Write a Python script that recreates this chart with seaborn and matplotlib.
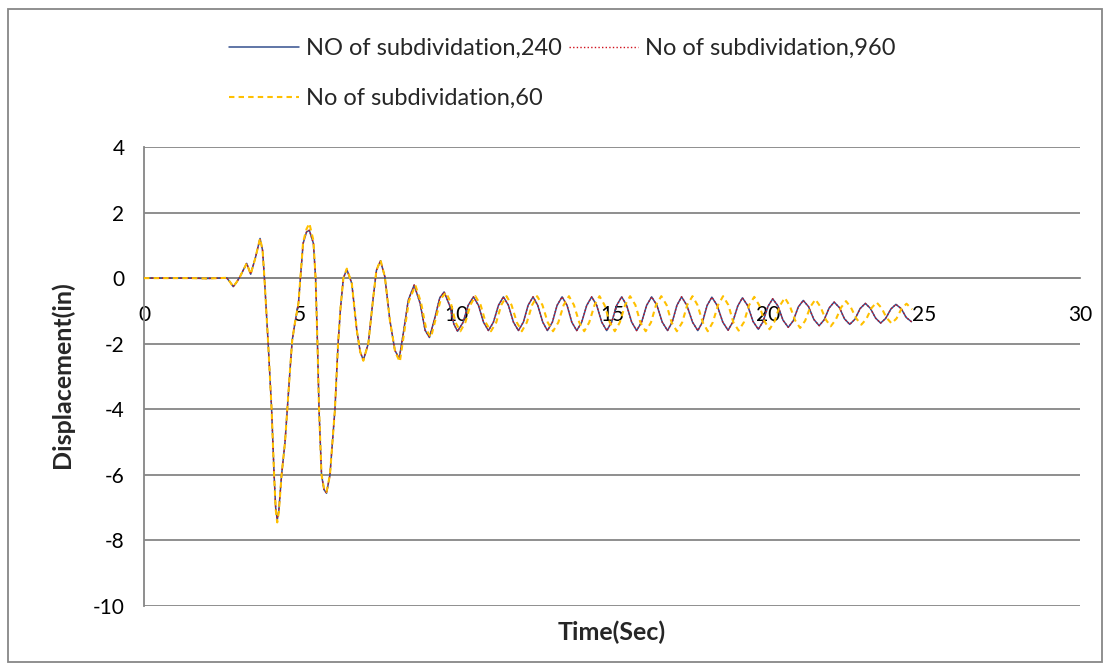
import matplotlib
matplotlib.use("Agg")
import matplotlib.pyplot as plt
from matplotlib.patches import Rectangle
import seaborn as sns
import pandas as pd

# ---------------- data ----------------
# common start of the response (0 .. 7.88 s)
time_early = [0.0, 0.5, 1.0, 1.5, 2.0, 2.4, 2.65, 2.76, 2.86, 2.97, 3.08, 3.29, 3.42, 3.57,
              3.72, 3.80, 3.86, 3.98, 4.09, 4.17, 4.22, 4.27, 4.32, 4.41, 4.52, 4.60, 4.68,
              4.75, 4.84, 4.95, 5.00, 5.10, 5.21, 5.30, 5.43, 5.50, 5.56, 5.61, 5.69, 5.77,
              5.85, 5.96, 6.12, 6.22, 6.30, 6.39, 6.50, 6.66, 6.82, 6.93, 7.03, 7.19, 7.35,
              7.45, 7.58, 7.72, 7.88]

disp_early_240 = [0.0, 0.0, 0.0, 0.0, -0.01, 0.0, 0.01, -0.12, -0.26, -0.12, 0.05, 0.45, 0.12,
                  0.62, 1.21, 0.85, 0.0, -2.0, -4.0, -6.0, -7.0, -7.38, -7.1, -6.0, -5.0, -3.9,
                  -2.8, -1.9, -1.35, -0.77, -0.16, 1.06, 1.41, 1.46, 1.06, 0.0, -2.0, -4.0,
                  -6.0, -6.45, -6.56, -6.0, -4.0, -2.0, -0.9, 0.0, 0.27, -0.16, -1.59, -2.25,
                  -2.5, -1.99, -0.57, 0.24, 0.53, 0.04, -1.28]

disp_early_60 = [0.0, 0.0, 0.0, 0.0, -0.01, 0.0, 0.01, -0.12, -0.26, -0.12, 0.05, 0.45, 0.12,
                 0.62, 1.21, 0.85, 0.0, -2.0, -4.0, -6.0, -7.05, -7.45, -7.15, -6.0, -5.0, -3.9,
                 -2.8, -1.9, -1.35, -0.77, -0.16, 1.10, 1.50, 1.67, 1.15, 0.0, -2.0, -4.0,
                 -6.0, -6.42, -6.52, -6.0, -4.0, -2.0, -0.9, 0.0, 0.29, -0.16, -1.59, -2.25,
                 -2.52, -1.99, -0.57, 0.24, 0.55, 0.04, -1.28]

# NO of subdividation, 240 (8.04 s onward)
time_late_240 = [8.04, 8.18, 8.31, 8.47, 8.66, 8.85, 9.01, 9.15, 9.33, 9.48, 9.62, 9.81, 9.93,
                 10.05, 10.22, 10.39, 10.56, 10.72, 10.88, 11.04, 11.20, 11.36, 11.52, 11.68,
                 11.84, 12.00, 12.16, 12.31, 12.47, 12.62, 12.78, 12.93, 13.09, 13.24, 13.40,
                 13.56, 13.71, 13.87, 14.03, 14.19, 14.35, 14.51, 14.67, 14.83, 14.99, 15.15,
                 15.31, 15.47, 15.63, 15.79, 15.95, 16.11, 16.27, 16.44, 16.61, 16.78, 16.93,
                 17.08, 17.23, 17.40, 17.58, 17.75, 17.90, 18.05, 18.20, 18.37, 18.55, 18.72,
                 18.87, 19.03, 19.18, 19.35, 19.52, 19.69, 19.84, 20.00, 20.15, 20.32, 20.48,
                 20.65, 20.81, 20.97, 21.13, 21.30, 21.47, 21.64, 21.80, 21.96, 22.12, 22.29,
                 22.45, 22.62, 22.79, 22.95, 23.12, 23.28, 23.45, 23.61, 23.77, 23.94, 24.10,
                 24.27, 24.43, 24.60]
disp_late_240 = [-2.2, -2.45, -1.69, -0.67, -0.21, -0.77, -1.59, -1.81, -1.18, -0.6, -0.42,
                 -0.87, -1.4, -1.62, -1.36, -0.83, -0.57, -0.83, -1.34, -1.60, -1.34, -0.83,
                 -0.57, -0.83, -1.34, -1.60, -1.34, -0.83, -0.57, -0.83, -1.34, -1.60, -1.34,
                 -0.83, -0.57, -0.83, -1.34, -1.60, -1.34, -0.83, -0.57, -0.83, -1.34, -1.60,
                 -1.34, -0.83, -0.57, -0.83, -1.34, -1.60, -1.34, -0.83, -0.57, -0.83, -1.34,
                 -1.60, -1.34, -0.83, -0.57, -0.83, -1.34, -1.60, -1.34, -0.83, -0.58, -0.83,
                 -1.34, -1.59, -1.34, -0.85, -0.60, -0.84, -1.32, -1.56, -1.33, -0.86, -0.63,
                 -0.85, -1.28, -1.50, -1.30, -0.88, -0.68, -0.87, -1.26, -1.45, -1.27, -0.91,
                 -0.73, -0.90, -1.24, -1.41, -1.25, -0.93, -0.77, -0.92, -1.22, -1.37, -1.23,
                 -0.94, -0.80, -0.93, -1.20, -1.33]

# No of subdividation, 960 : coincides with the 240 curve in the reference
time_late_960 = list(time_late_240)
disp_late_960 = list(disp_late_240)

# No of subdividation, 60 (8.05 s onward): slightly longer period
time_late_60 = [8.05, 8.20, 8.33, 8.49, 8.70, 8.88, 9.05, 9.20, 9.36, 9.52, 9.68, 9.83, 9.99,
                10.14, 10.30, 10.46, 10.62, 10.79, 10.95, 11.12, 11.29, 11.45, 11.62, 11.78,
                11.95, 12.11, 12.27, 12.44, 12.60, 12.77, 12.94, 13.11, 13.28, 13.45, 13.62,
                13.78, 13.95, 14.11, 14.27, 14.44, 14.60, 14.76, 14.93, 15.09, 15.25, 15.42,
                15.58, 15.75, 15.91, 16.08, 16.25, 16.41, 16.58, 16.75, 16.91, 17.08, 17.25,
                17.41, 17.58, 17.74, 17.91, 18.07, 18.23, 18.40, 18.56, 18.73, 18.89, 19.06,
                19.23, 19.39, 19.56, 19.72, 19.89, 20.05, 20.21, 20.38, 20.54, 20.70, 20.87,
                21.03, 21.19, 21.36, 21.52, 21.68, 21.85, 22.01, 22.17, 22.34, 22.50, 22.66,
                22.83, 22.99, 23.15, 23.32, 23.48, 23.64, 23.80, 23.96, 24.12, 24.28, 24.44,
                24.62]
disp_late_60 = [-2.25, -2.55, -1.72, -0.70, -0.22, -0.75, -1.58, -1.80, -1.20, -0.62, -0.44,
                -0.74, -1.36, -1.62, -1.35, -0.82, -0.55, -0.82, -1.35, -1.62, -1.35, -0.82,
                -0.55, -0.82, -1.35, -1.62, -1.35, -0.82, -0.55, -0.82, -1.35, -1.62, -1.35,
                -0.82, -0.55, -0.82, -1.35, -1.62, -1.35, -0.82, -0.55, -0.82, -1.35, -1.62,
                -1.35, -0.82, -0.55, -0.82, -1.35, -1.62, -1.35, -0.82, -0.55, -0.82, -1.35,
                -1.62, -1.35, -0.82, -0.55, -0.82, -1.35, -1.62, -1.35, -0.82, -0.55, -0.82,
                -1.35, -1.60, -1.34, -0.83, -0.57, -0.83, -1.32, -1.56, -1.32, -0.84, -0.60,
                -0.85, -1.29, -1.52, -1.30, -0.87, -0.65, -0.87, -1.26, -1.47, -1.27, -0.90,
                -0.70, -0.90, -1.23, -1.42, -1.25, -0.91, -0.74, -0.91, -1.21, -1.38, -1.23,
                -0.93, -0.78, -0.95]

labels = ["NO of subdividation,240", "No of subdividation,960", "No of subdividation,60"]
x_ticks = [0, 5, 10, 15, 20, 25, 30]
y_ticks = [-10, -8, -6, -4, -2, 0, 2, 4]

# ---------------- tables ----------------
df240 = pd.DataFrame({"t": time_early + time_late_240, "d": disp_early_240 + disp_late_240})
df960 = pd.DataFrame({"t": time_early + time_late_960, "d": disp_early_240 + disp_late_960})
df60 = pd.DataFrame({"t": time_early + time_late_60, "d": disp_early_60 + disp_late_60})

# ---------------- style ----------------
sns.set_style("white")
plt.rcParams["font.family"] = ["Lato", "DejaVu Sans"]
GRAY = "#868686"

fig = plt.figure(figsize=(11.1, 6.71), dpi=100)
ax = fig.add_axes([144 / 1110, 1 - 606 / 671, (1080 - 144) / 1110, (606 - 147) / 671])

sns.lineplot(data=df240, x="t", y="d", ax=ax, color="#34508e", linewidth=1.1,
             estimator=None, sort=False, label=labels[0], zorder=3)
sns.lineplot(data=df960, x="t", y="d", ax=ax, color="#d0101c", linewidth=1.0,
             linestyle=(0, (1, 1.6)), estimator=None, sort=False, label=labels[1], zorder=4)
sns.lineplot(data=df60, x="t", y="d", ax=ax, color="#ffc000", linewidth=1.5,
             linestyle=(0, (2.6, 2.0)), estimator=None, sort=False, label=labels[2], zorder=5)

ax.set_xlim(0, 30)
ax.set_ylim(-10, 4)
ax.set_xticks(x_ticks)
ax.set_yticks(y_ticks)
ax.set_xticklabels([str(v) for v in x_ticks])
ax.set_yticklabels([str(v) for v in y_ticks])
ax.grid(axis="y", color=GRAY, linewidth=1.3)
ax.grid(axis="x", visible=False)
ax.set_axisbelow(True)

for s in ["top", "right"]:
    ax.spines[s].set_visible(False)
ax.spines["bottom"].set_position(("data", 0))
ax.spines["bottom"].set_color(GRAY)
ax.spines["bottom"].set_linewidth(1.3)
ax.spines["left"].set_color(GRAY)
ax.spines["left"].set_linewidth(1.3)

ax.tick_params(axis="x", direction="out", length=7, width=1.3, color=GRAY, pad=12,
               labelsize=15, labelcolor="black")
ax.tick_params(axis="y", direction="out", length=7, width=1.3, color=GRAY, pad=7,
               labelsize=15, labelcolor="black")
ax.set_xlabel("")
ax.set_ylabel("")

fig.text(612 / 1110, 1 - 632 / 671, "Time(Sec)", ha="center", va="center",
         fontsize=18, fontweight="bold")
fig.text(62 / 1110, 1 - 375 / 671, "Displacement(in)", ha="center", va="center",
         rotation=90, fontsize=18, fontweight="bold")

h, l = ax.get_legend_handles_labels()
ax.get_legend().remove()
order = [0, 2, 1]
fig.legend([h[i] for i in order], [l[i] for i in order], ncol=2, frameon=False,
           loc="upper left", bbox_to_anchor=(229 / 1110, 1 - 38 / 671),
           borderaxespad=0, borderpad=0, fontsize=17, handlelength=2.95,
           handletextpad=0.3, columnspacing=0.3, labelspacing=1.22)

fig.patches.append(Rectangle((8 / 1110, 1 - 662 / 671), (1102 - 8) / 1110, (662 - 9) / 671,
                             transform=fig.transFigure, fill=False, edgecolor="#878787",
                             linewidth=1.3))

fig.savefig("out.png", dpi=100)
